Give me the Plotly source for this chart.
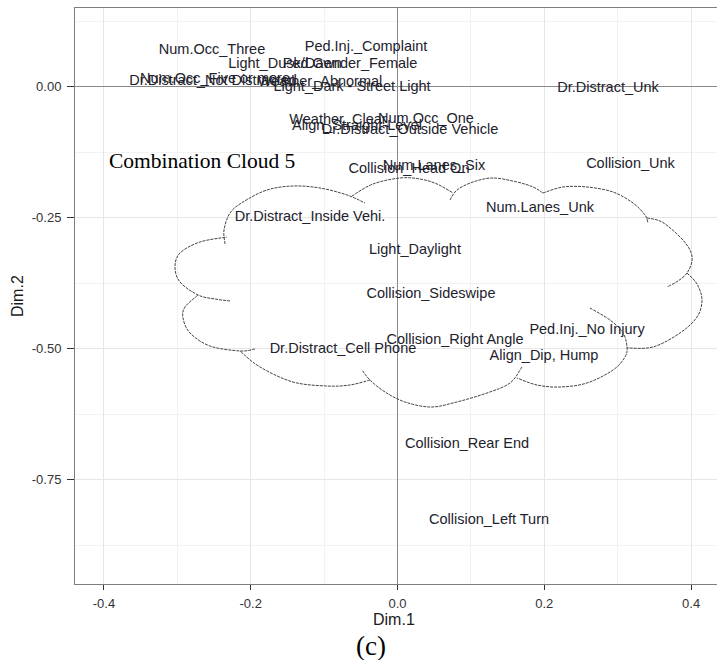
import plotly.graph_objects as go

# ---------------- data ----------------
labels = [
    "Num.Occ_Three", "Ped.Inj._Complaint", "Light_Dusk/Dawn", "Ped.Gender_Female",
    "Num.Occ_Five or more", "Dr.Distract_Not Distracted", "Weather_Abnormal",
    "Light_Dark - Street Light", "Dr.Distract_Unk", "Weather_Clear",
    "Align_Straight-Level", "Num.Occ_One", "Dr.Distract_Outside Vehicle",
    "Collision_Head On", "Num.Lanes_Six", "Collision_Unk", "Num.Lanes_Unk",
    "Dr.Distract_Inside Vehi.", "Light_Daylight", "Collision_Sideswipe",
    "Ped.Inj._No Injury", "Collision_Right Angle", "Dr.Distract_Cell Phone",
    "Align_Dip, Hump", "Collision_Rear End", "Collision_Left Turn",
]
dim1 = [
    -0.2527, -0.0429, -0.1533, -0.0647,
    -0.2486, -0.2514, -0.1056,
    -0.0620, 0.2868, -0.0811,
    -0.0552, 0.0388, 0.0170,
    0.0157, 0.0497, 0.3174, 0.1941,
    -0.1192, 0.0238, 0.0456,
    0.2582, 0.0783, -0.0743,
    0.1996, 0.0947, 0.1247,
]
dim2 = [
    0.0690, 0.0748, 0.0423, 0.0423,
    0.0137, 0.0098, 0.0079,
    -0.0016, -0.0035, -0.0646,
    -0.0761, -0.0627, -0.0837,
    -0.1581, -0.1524, -0.1486, -0.2326,
    -0.2498, -0.3128, -0.3968,
    -0.4655, -0.4846, -0.5018,
    -0.5152, -0.6832, -0.8283,
]
x_tickvals = [-0.4, -0.2, 0.0, 0.2, 0.4]
x_ticktext = ["-0.4", "-0.2", "0.0", "0.2", "0.4"]
y_tickvals = [0.0, -0.25, -0.50, -0.75]
y_ticktext = ["0.00", "-0.25", "-0.50", "-0.75"]

# ---------------- layout geometry ----------------
W, H = 717, 660
ML, MR, MT, MB = 75, 0, 8, 76
PW, PH = W - ML - MR, H - MT - MB

# cloud callout outline (decoration), traced in pixel space, one list per bump
cloud_bumps = [
    [(225, 244), (224, 230), (230, 213), (243, 202), (267, 190), (293, 186), (320, 188), (347, 195), (365, 203)],
    [(352, 196), (373, 184), (400, 178), (420, 179), (437, 184), (453, 193)],
    [(450, 200), (457, 190), (473, 182), (493, 178), (517, 182), (533, 187), (543, 193)],
    [(543, 193), (563, 187), (587, 187), (613, 192), (633, 203), (645, 215), (648, 223)],
    [(647, 218), (662, 222), (680, 237), (690, 250), (692, 261), (687, 273), (678, 281), (667, 287)],
    [(687, 273), (697, 284), (702, 300), (697, 317), (680, 333), (653, 347), (627, 348)],
    [(590, 308), (610, 320), (623, 333), (627, 347), (625, 357), (613, 370), (587, 383), (560, 387), (537, 385), (517, 378)],
    [(522, 367), (510, 383), (487, 393), (453, 403), (430, 407), (405, 402), (385, 392), (370, 380), (362, 370)],
    [(370, 380), (350, 385), (327, 386), (293, 382), (260, 367), (240, 351)],
    [(255, 349), (240, 351), (210, 346), (190, 333), (183, 318), (185, 307), (198, 295)],
    [(230, 301), (215, 299), (198, 295), (180, 282), (175, 267), (180, 253), (200, 242), (227, 237)],
]


def to_paper(p):
    return ((p[0] - ML) / PW, 1 - (p[1] - MT) / PH)


def catmull_path(pts):
    pts = [to_paper(p) for p in pts]
    ext = [pts[0]] + pts + [pts[-1]]
    s = "M %.5f %.5f" % pts[0]
    for i in range(1, len(ext) - 2):
        p0, p1, p2, p3 = ext[i - 1], ext[i], ext[i + 1], ext[i + 2]
        c1 = (p1[0] + (p2[0] - p0[0]) / 6, p1[1] + (p2[1] - p0[1]) / 6)
        c2 = (p2[0] - (p3[0] - p1[0]) / 6, p2[1] - (p3[1] - p1[1]) / 6)
        s += " C %.5f %.5f, %.5f %.5f, %.5f %.5f" % (c1 + c2 + p2)
    return s


shapes = [
    dict(type="path", xref="paper", yref="paper", path=catmull_path(b),
         line=dict(color="#444444", width=1, dash="3px,1px"), layer="above")
    for b in cloud_bumps
]

fig = go.Figure()
fig.add_trace(go.Scatter(
    x=dim1, y=dim2, text=labels, mode="text", textposition="middle center",
    textfont=dict(family="Liberation Sans, Arial, sans-serif", size=14.5, color="#22222c"),
    hoverinfo="skip", showlegend=False,
))

axis_common = dict(
    showgrid=True, gridcolor="#e6e6e6", gridwidth=1,
    zeroline=True, zerolinecolor="#8a8a8a", zerolinewidth=1,
    showline=True, mirror=True, linecolor="#7f7f7f", linewidth=1,
    ticks="outside", tickcolor="#333333", tickwidth=1,
    tickfont=dict(family="Liberation Sans, Arial, sans-serif", size=13, color="#333333"),
)

fig.update_layout(
    width=W, height=H,
    margin=dict(l=ML, r=MR, t=MT, b=MB),
    paper_bgcolor="white", plot_bgcolor="white",
    xaxis=dict(range=[-0.4394, 0.4353], tickvals=x_tickvals, ticktext=x_ticktext,
               ticklen=5, ticklabelstandoff=2,
               minor=dict(dtick=0.1, tick0=0, showgrid=True, gridcolor="#f2f2f2", gridwidth=1),
               **axis_common),
    yaxis=dict(range=[-0.9492, 0.1504], tickvals=y_tickvals, ticktext=y_ticktext,
               ticklen=7, ticklabelstandoff=3,
               minor=dict(dtick=0.125, tick0=0, showgrid=True, gridcolor="#f2f2f2", gridwidth=1),
               **axis_common),
    shapes=shapes,
    annotations=[
        dict(text="Dim.1", xref="paper", yref="paper", x=(394 - ML) / PW, y=1 - (619 - MT) / PH,
             showarrow=False, xanchor="center", yanchor="middle",
             font=dict(family="Liberation Sans, Arial, sans-serif", size=16, color="#1a1a1a")),
        dict(text="Dim.2", xref="paper", yref="paper", x=(17 - ML) / PW, y=1 - (296 - MT) / PH,
             showarrow=False, xanchor="center", yanchor="middle", textangle=-90,
             font=dict(family="Liberation Sans, Arial, sans-serif", size=16, color="#1a1a1a")),
        dict(text="Combination Cloud 5", xref="paper", yref="paper",
             x=(107 - ML) / PW, y=1 - (161 - MT) / PH,
             showarrow=False, xanchor="left", yanchor="middle",
             font=dict(family="Liberation Serif, Times New Roman, serif", size=21.5, color="black")),
        dict(text="(c)", xref="paper", yref="paper", x=(371 - ML) / PW, y=1 - (646 - MT) / PH,
             showarrow=False, xanchor="center", yanchor="middle",
             font=dict(family="Liberation Serif, Times New Roman, serif", size=27, color="black")),
    ],
)

fig.write_html("out.html")
